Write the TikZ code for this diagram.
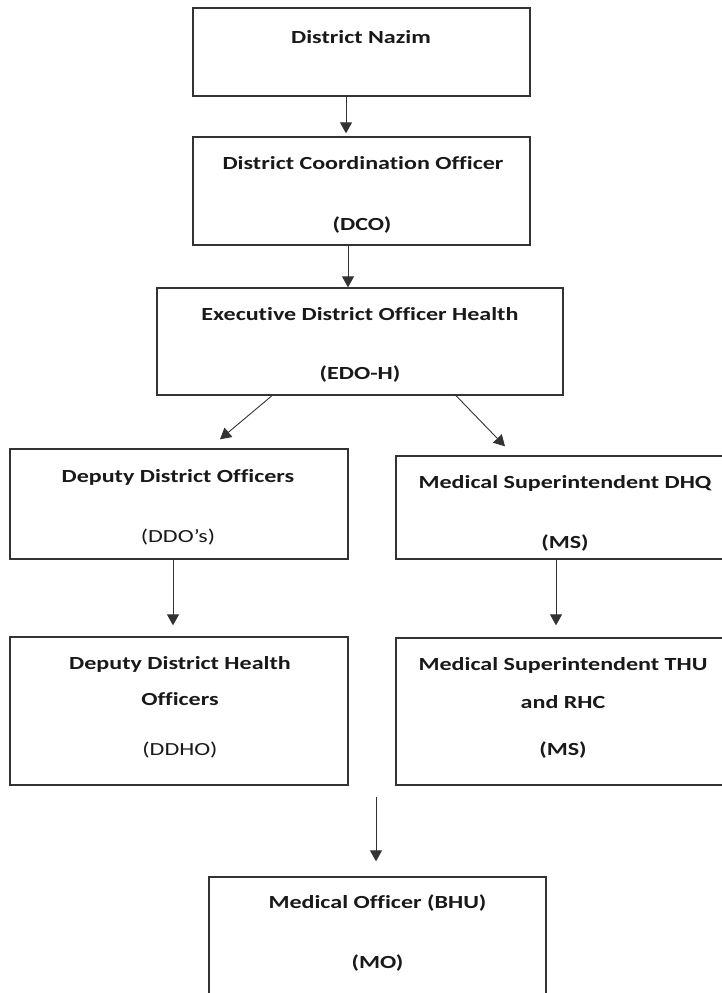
\documentclass[tikz,border=0pt]{standalone}
\usepackage{fontspec}
\setmainfont{Carlito}[Ligatures=NoCommon]
\usetikzlibrary{arrows.meta}
\newcommand{\wide}[1]{\scalebox{1.3}[1]{#1}}
\begin{document}
\begin{tikzpicture}[x=1pt,y=-1pt,
  box/.style={draw=black!80,line width=1.3pt,inner sep=0pt,rectangle},
  txt/.style={font=\fontsize{18.5}{21}\selectfont\bfseries,inner sep=0pt,text=black!90},
  txtn/.style={font=\fontsize{18.5}{21}\selectfont,inner sep=0pt,text=black!90},
  arr/.style={draw=black!80,line width=0.9pt,-{Triangle[width=12pt,length=11pt]}}]
\useasboundingbox (0,0) rectangle (722,993);
\clip (0,0) rectangle (722,993);
% boxes
\node[box,minimum width=337pt,minimum height=88pt]  (b1) at (361.5,52) {};
\node[box,minimum width=337pt,minimum height=108pt] (b2) at (361.5,191) {};
\node[box,minimum width=406pt,minimum height=107pt] (b3) at (360,341.5) {};
\node[box,minimum width=338pt,minimum height=110pt] (b4) at (179,504) {};
\node[box,minimum width=338pt,minimum height=103pt] (b5) at (565,507.5) {};
\node[box,minimum width=338pt,minimum height=148pt] (b6) at (179,711) {};
\node[box,minimum width=338pt,minimum height=147pt] (b7) at (565,711.5) {};
\node[box,minimum width=337pt,minimum height=136pt] (b8) at (377.5,945) {};
% texts
\node[txt] (t1) at (361,37) {\wide{District Nazim}};
\node[txt] (t2a) at (363,163) {\wide{District Coordination Officer}};
\node[txt] (t2b) at (362,225) {\wide{(DCO)}};
\node[txt] (t3a) at (360,314) {\wide{Executive District Officer Health}};
\node[txt] (t3b) at (360,374) {\wide{(EDO-H)}};
\node[txt] (t4a) at (178,477) {\wide{Deputy District Officers}};
\node[txtn] (t4b) at (178,537) {\wide{(DDO’s)}};
\node[txt] (t5a) at (565,483) {\wide{Medical Superintendent DHQ}};
\node[txt] (t5b) at (565,543) {\wide{(MS)}};
\node[txt] (t6a) at (180,664) {\wide{Deputy District Health}};
\node[txt] (t6b) at (180,699) {\wide{Officers}};
\node[txtn] (t6c) at (180,750) {\wide{(DDHO)}};
\node[txt] (t7a) at (563,665) {\wide{Medical Superintendent THU}};
\node[txt] (t7b) at (563,702) {\wide{and RHC}};
\node[txt] (t7c) at (563,750) {\wide{(MS)}};
\node[txt] (t8a) at (377.5,903) {\wide{Medical Officer (BHU)}};
\node[txt] (t8b) at (377.5,963) {\wide{(MO)}};
% arrows
\draw[arr] ([xshift=-15.5pt]b1.south) -- ([xshift=-15.5pt,yshift=3pt]b2.north);
\draw[arr] ([xshift=-13.5pt]b2.south) -- ([xshift=-12pt]b3.north);
\draw[arr] ([xshift=-88pt]b3.south) -- ([xshift=41pt,yshift=9pt]b4.north);
\draw[arr] ([xshift=96pt]b3.south) -- ([xshift=-60pt,yshift=9pt]b5.north);
\draw[arr] ([xshift=-6pt]b4.south) -- ([xshift=-6pt,yshift=11pt]b6.north);
\draw[arr] ([xshift=-9pt]b5.south) -- ([xshift=-9pt,yshift=12pt]b7.north);
\coordinate (c8) at (376,797);
\draw[arr] (c8) -- ([xshift=-1.5pt,yshift=15pt]b8.north);
\end{tikzpicture}
\end{document}
